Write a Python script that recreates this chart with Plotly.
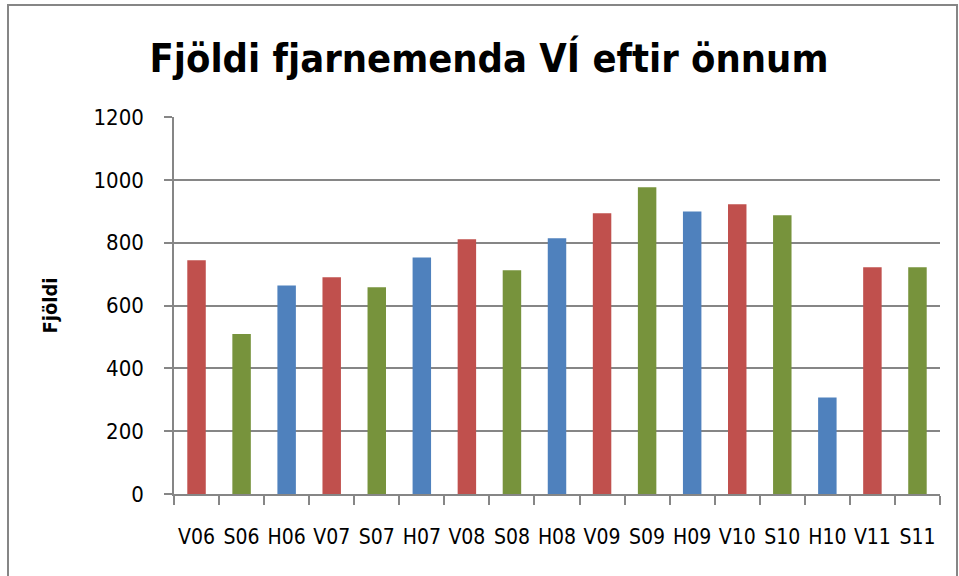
import plotly.graph_objects as go

categories = ["V06", "S06", "H06", "V07", "S07", "H07", "V08", "S08", "H08",
              "V09", "S09", "H09", "V10", "S10", "H10", "V11", "S11"]
values = [744, 509, 664, 690, 658, 753, 811, 712, 814,
          894, 976, 899, 922, 887, 307, 722, 722]
y_ticks = [0, 200, 400, 600, 800, 1000, 1200]

COLORS = {"V": "#C0504D", "S": "#77933C", "H": "#4F81BD"}
bar_colors = [COLORS[c[0]] for c in categories]

FONT = "DejaVu Sans Condensed, Liberation Sans, Arial"

fig = go.Figure(go.Bar(
    x=categories, y=values,
    marker=dict(color=bar_colors, line=dict(width=0)),
    width=0.41,
))

L, R, T, B = 174, 19, 117, 82
W, H = 959, 576
pw, ph = W - L - R, H - T - B

def px_x(x):
    return (x - L) / pw

def px_y(y):
    return (H - B - y) / ph

fig.update_layout(
    width=W, height=H,
    margin=dict(l=L, r=R, t=T, b=B, autoexpand=False),
    paper_bgcolor="white", plot_bgcolor="white",
    showlegend=False,
    title=dict(text="<b>Fjöldi fjarnemenda VÍ eftir önnum</b>",
               x=489 / W, xanchor="center", y=1 - 58 / H, yanchor="middle",
               font=dict(family=FONT, size=39.5, color="black")),
    xaxis=dict(
        type="category", tickson="boundaries", tickangle=0, automargin=False,
        ticks="outside", ticklen=9, tickcolor="#868686", tickwidth=1.5,
        showline=True, linecolor="#868686", linewidth=1.5,
        showgrid=False,
        tickfont=dict(family=FONT, size=21, color="black"),
        ticklabelstandoff=23,
        range=[-0.5, len(categories) - 0.5],
    ),
    yaxis=dict(
        range=[0, 1200], tickvals=y_ticks, automargin=False,
        ticks="outside", ticklen=8, tickcolor="#868686", tickwidth=1.5,
        showline=True, linecolor="#868686", linewidth=1.5,
        showgrid=True, gridcolor="#868686", gridwidth=1.5,
        zeroline=False,
        tickfont=dict(family=FONT, size=22, color="black"),
        ticklabelstandoff=16,
        title=dict(text="<b>Fjöldi</b>", font=dict(family=FONT, size=20, color="black"),
                   standoff=30),
    ),
    shapes=[dict(type="rect", xref="paper", yref="paper",
                 x0=px_x(8), x1=px_x(957), y0=px_y(600), y1=px_y(5),
                 line=dict(color="#868686", width=2), fillcolor="rgba(0,0,0,0)",
                 layer="below")],
)

fig.write_html("out.html", config={"displayModeBar": False},
               post_script="document.body.style.margin='0';")
